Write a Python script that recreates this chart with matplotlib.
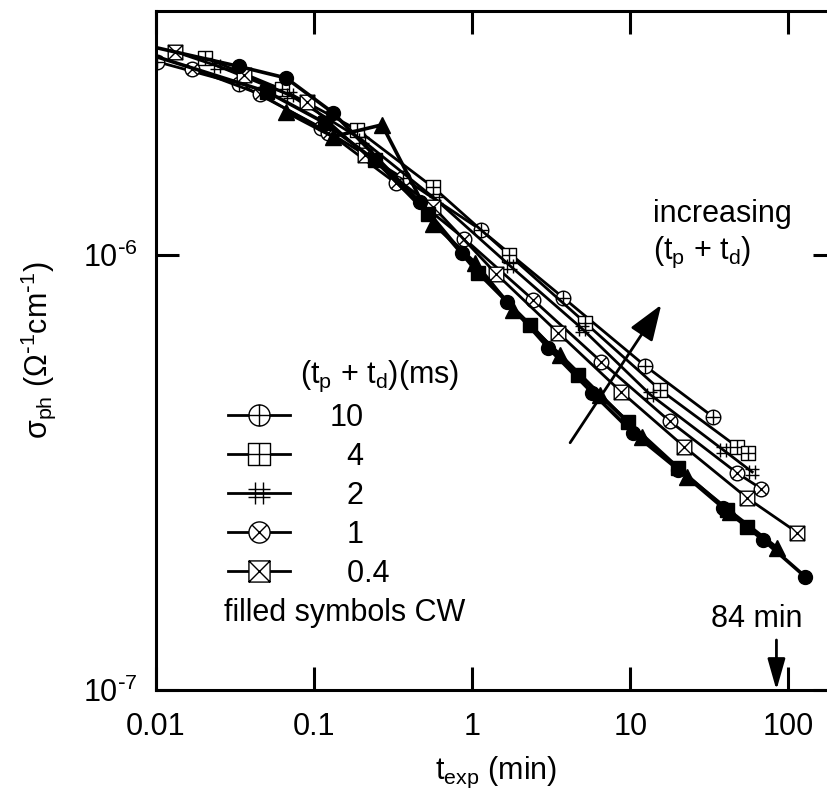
import numpy as np
import matplotlib
matplotlib.use('Agg')
import matplotlib.pyplot as plt
from matplotlib.path import Path
from matplotlib.ticker import NullLocator

plt.rcParams['font.family'] = ['Liberation Sans', 'DejaVu Sans']
plt.rcParams['mathtext.default'] = 'regular'
plt.rcParams['font.size'] = 22

# pulsed illumination, (t_p + t_d) = 10, 4, 2, 1, 0.4 ms
t_10 = [0.0101, 0.0335, 0.111, 0.366, 1.14, 3.77, 12.4, 33.5]
s_10 = [2.78e-6, 2.47e-6, 1.96e-6, 1.50e-6, 1.14e-6, 7.97e-7, 5.56e-7, 4.24e-7]

t_4 = [0.0204, 0.0627, 0.187, 0.566, 1.71, 5.19, 15.5, 47.5, 55.8]
s_4 = [2.84e-6, 2.40e-6, 1.94e-6, 1.43e-6, 1.0e-6, 6.98e-7, 4.89e-7, 3.62e-7, 3.51e-7]

t_2 = [0.0243, 0.070, 0.20, 0.59, 1.74, 4.97, 13.4, 38.8, 59]
s_2 = [2.72e-6, 2.33e-6, 1.84e-6, 1.34e-6, 9.43e-7, 6.76e-7, 4.77e-7, 3.56e-7, 3.17e-7]

t_1 = [0.0169, 0.0455, 0.123, 0.33, 0.89, 2.43, 6.55, 17.7, 47.5, 67.5]
s_1 = [2.68e-6, 2.34e-6, 1.91e-6, 1.46e-6, 1.09e-6, 7.88e-7, 5.68e-7, 4.15e-7, 3.15e-7, 2.90e-7]

t_04 = [0.0132, 0.036, 0.090, 0.21, 0.566, 1.42, 3.5, 8.77, 22, 55, 114]
s_04 = [2.93e-6, 2.59e-6, 2.24e-6, 1.70e-6, 1.29e-6, 9.04e-7, 6.62e-7, 4.84e-7, 3.62e-7, 2.76e-7, 2.30e-7]

# CW illumination (filled symbols)
t_cw_circ = [0.008, 0.0335, 0.0665, 0.132, 0.469, 0.865, 1.67, 3.03, 5.75, 10.4, 20.1, 38.8, 69.5, 128]
s_cw_circ = [3.05e-6, 2.71e-6, 2.55e-6, 2.12e-6, 1.32e-6, 1.01e-6, 7.8e-7, 6.11e-7, 4.82e-7, 3.90e-7,
             3.21e-7, 2.62e-7, 2.21e-7, 1.82e-7]

t_cw_sq = [0.008, 0.0505, 0.117, 0.243, 0.527, 1.09, 2.33, 4.69, 9.7, 20.1, 41, 55]
s_cw_sq = [2.93e-6, 2.37e-6, 2.01e-6, 1.65e-6, 1.24e-6, 9.09e-7, 6.9e-7, 5.3e-7, 4.13e-7, 3.24e-7,
           2.59e-7, 2.37e-7]

t_cw_tri = [0.0665, 0.132, 0.269, 0.566, 1.04, 1.82, 3.6, 6.46, 11.9, 23, 43, 85]
s_cw_tri = [2.13e-6, 1.87e-6, 1.99e-6, 1.18e-6, 9.6e-7, 7.47e-7, 5.89e-7, 4.77e-7, 3.82e-7, 3.09e-7,
            2.57e-7, 2.12e-7]

legend_labels = ['10', '  4', '  2', '  1', '  0.4']
x_ticks = [0.01, 0.1, 1, 10, 100]
x_ticklabels = ['0.01', '0.1', '1', '10', '100']
y_ticks = [1e-7, 1e-6]
y_ticklabels = ['$10^{\\text{-}7}$', '$10^{\\text{-}6}$']

# marker shapes: circle/square with plus or cross, and a hash
M, L = Path.MOVETO, Path.LINETO
circle = Path.unit_circle()
square = Path([(-1, -1), (1, -1), (1, 1), (-1, 1), (-1, -1)], [M, L, L, L, Path.CLOSEPOLY])
plus = Path([(-1, 0), (1, 0), (0, -1), (0, 1)], [M, L, M, L])
d = 0.707
xcirc = Path([(-d, -d), (d, d), (-d, d), (d, -d)], [M, L, M, L])
xsq = Path([(-1, -1), (1, 1), (-1, 1), (1, -1)], [M, L, M, L])
h = 0.4
hash_mark = Path([(-h, -1), (-h, 1), (h, -1), (h, 1), (-1, -h), (1, -h), (-1, h), (1, h)],
                 [M, L, M, L, M, L, M, L])
m_circ_plus = Path.make_compound_path(circle, plus)
m_sq_plus = Path.make_compound_path(square, plus)
m_circ_x = Path.make_compound_path(circle, xcirc)
m_sq_x = Path.make_compound_path(square, xsq)

fig = plt.figure(figsize=(8.28, 7.9), dpi=100)
ax = fig.add_axes([156/828, 100/790, 680/828, 679.3/790])

open_kw = dict(color='k', lw=2.0, ms=10.5, mfc='white', mec='k', mew=1.0)
l10, = ax.plot(t_10, s_10, marker=m_circ_plus, **open_kw)
l4, = ax.plot(t_4, s_4, marker=m_sq_plus, **open_kw)
l2, = ax.plot(t_2, s_2, marker=hash_mark, **open_kw)
l1, = ax.plot(t_1, s_1, marker=m_circ_x, **open_kw)
l04, = ax.plot(t_04, s_04, marker=m_sq_x, **open_kw)

cw_kw = dict(color='k', lw=2.6, mfc='k', mec='k')
ax.plot(t_cw_circ, s_cw_circ, marker='o', ms=10, **cw_kw)
ax.plot(t_cw_sq, s_cw_sq, marker='s', ms=10.5, **cw_kw)
ax.plot(t_cw_tri, s_cw_tri, marker='^', ms=11, **cw_kw)

ax.set_xscale('log')
ax.set_yscale('log')
ax.set_xlim(0.01, 200)
ax.set_ylim(1e-7, 3.64e-6)
ax.set_xticks(x_ticks)
ax.set_xticklabels(x_ticklabels)
ax.set_yticks(y_ticks)
ax.set_yticklabels(y_ticklabels)
ax.xaxis.set_minor_locator(NullLocator())
ax.yaxis.set_minor_locator(NullLocator())
ax.tick_params(which='major', direction='in', length=16.5, width=2.2, top=True, right=True)
ax.tick_params(axis='x', pad=16)
ax.tick_params(axis='y', pad=13)
for sp in ax.spines.values():
    sp.set_linewidth(2.2)

ax.set_xlabel('t$_{exp}$ (min)', labelpad=9)
ax.set_ylabel('σ$_{ph}$ (Ω$^{\\text{-}1}$cm$^{\\text{-}1}$)')
ax.yaxis.set_label_coords(-0.144, 0.5)

leg = ax.legend([l10, l4, l2, l1, l04], legend_labels, loc='upper left',
                bbox_to_anchor=(0.106, 0.4226), frameon=False, borderpad=0, borderaxespad=0,
                handlelength=2.03, handletextpad=1.3, labelspacing=0.295, markerscale=1.45)

ax.text(0.212, 0.452, '(t$_{p}$ + t$_{d}$)(ms)', transform=ax.transAxes, ha='left', va='baseline')
ax.text(0.10, 0.1016, 'filled symbols CW', transform=ax.transAxes, ha='left', va='baseline')

ax.text(0.731, 0.689, 'increasing', transform=ax.transAxes, ha='left', va='baseline')
ax.text(0.731, 0.634, '(t$_{p}$ + t$_{d}$)', transform=ax.transAxes, ha='left', va='baseline')
ax.annotate('', xy=(0.743, 0.567), xycoords='axes fraction', xytext=(0.609, 0.364),
            textcoords='axes fraction',
            arrowprops=dict(arrowstyle='-|>,head_length=1.1,head_width=0.4', color='k', lw=2.0,
                            mutation_scale=20, shrinkA=0, shrinkB=0))

ax.text(0.884, 0.0927, '84 min', transform=ax.transAxes, ha='center', va='baseline')
ax.annotate('', xy=(84, 0.0), xycoords=('data', 'axes fraction'), xytext=(84, 0.0736),
            textcoords=('data', 'axes fraction'),
            arrowprops=dict(arrowstyle='-|>,head_length=0.95,head_width=0.27', color='k', lw=2.0,
                            mutation_scale=20, shrinkA=0, shrinkB=0))

fig.savefig('out.png', dpi=100)
